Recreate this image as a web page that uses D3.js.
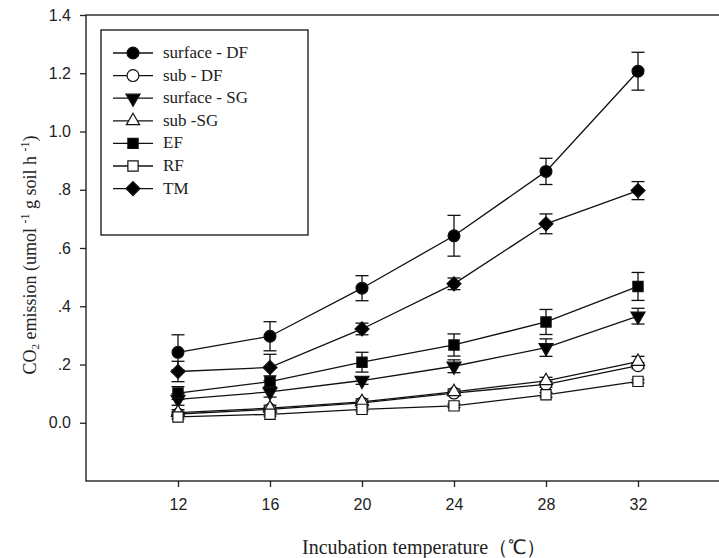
<!DOCTYPE html>
<html><head><meta charset="utf-8">
<script src="https://cdn.jsdelivr.net/npm/d3@7"></script>
<style>body{margin:0;background:#fff}</style>
</head><body>
<svg id="chart" width="719" height="558"></svg>
<script>
const temps = [12, 16, 20, 24, 28, 32];
const seriesNames = ["surface - DF", "sub - DF", "surface - SG", "sub -SG", "EF", "RF", "TM"];
const surfaceDF = [0.242, 0.297, 0.462, 0.642, 0.863, 1.207];
const surfaceDFerr = [0.06, 0.05, 0.043, 0.07, 0.045, 0.065];
const subDF = [0.03, 0.046, 0.068, 0.102, 0.132, 0.196];
const subDFerr = [0.007, 0.007, 0.008, 0.008, 0.01, 0.01];
const surfaceSG = [0.08, 0.106, 0.145, 0.194, 0.258, 0.366];
const surfaceSGerr = [0.02, 0.018, 0.013, 0.022, 0.03, 0.027];
const subSG = [0.035, 0.05, 0.072, 0.106, 0.144, 0.21];
const subSGerr = [0.01, 0.01, 0.01, 0.01, 0.012, 0.018];
const EF = [0.102, 0.141, 0.208, 0.267, 0.346, 0.468];
const EFerr = [0.022, 0.02, 0.034, 0.038, 0.043, 0.048];
const RF = [0.02, 0.029, 0.046, 0.058, 0.096, 0.142];
const RFerr = [0.007, 0.006, 0.006, 0.006, 0.008, 0.006];
const TM = [0.176, 0.19, 0.322, 0.477, 0.683, 0.797];
const TMerr = [0.035, 0.045, 0.02, 0.02, 0.034, 0.031];
const yTicks = [0, 0.2, 0.4, 0.6, 0.8, 1.0, 1.2, 1.4];
const yTickLabels = ["0.0", ".2", ".4", ".6", ".8", "1.0", "1.2", "1.4"];
const xTicks = [12, 16, 20, 24, 28, 32];

const series = [
  {name: seriesNames[0], v: surfaceDF, e: surfaceDFerr, sym: "circle", fill: "#000"},
  {name: seriesNames[1], v: subDF, e: subDFerr, sym: "circle", fill: "#fff"},
  {name: seriesNames[2], v: surfaceSG, e: surfaceSGerr, sym: "tdown", fill: "#000"},
  {name: seriesNames[3], v: subSG, e: subSGerr, sym: "tup", fill: "#fff"},
  {name: seriesNames[4], v: EF, e: EFerr, sym: "square", fill: "#000"},
  {name: seriesNames[5], v: RF, e: RFerr, sym: "square", fill: "#fff"},
  {name: seriesNames[6], v: TM, e: TMerr, sym: "diamond", fill: "#000"}
];

const svg = d3.select("#chart");
const L = 86, T = 15, B = 481;
const x = d3.scaleLinear().domain([8, 36]).range([L, 730]);
const y = d3.scaleLinear().domain([-0.2, 1.4]).range([B, T]);

// frame (its right side lies beyond the visible area)
svg.append("rect").attr("x", L).attr("y", T).attr("width", 740 - L).attr("height", B - T)
  .attr("fill", "none").attr("stroke", "#222").attr("stroke-width", 1.4);

const yAxis = d3.axisLeft(y).tickValues(yTicks).tickFormat((d, i) => yTickLabels[i]).tickSize(6).tickPadding(9);
const gy = svg.append("g").attr("transform", `translate(${L},0)`).call(yAxis);
gy.select(".domain").remove();
gy.selectAll("text").attr("font-family", "Liberation Sans, Arial, sans-serif").attr("font-size", 16).attr("fill", "#222");
gy.selectAll("line").attr("stroke", "#222").attr("stroke-width", 1.3);

const xAxis = d3.axisBottom(x).tickValues(xTicks).tickSize(6).tickPadding(12);
const gx = svg.append("g").attr("transform", `translate(0,${B})`).call(xAxis);
gx.select(".domain").remove();
gx.selectAll("text").attr("font-family", "Liberation Sans, Arial, sans-serif").attr("font-size", 16).attr("fill", "#222");
gx.selectAll("line").attr("stroke", "#222").attr("stroke-width", 1.3);

function symPath(sym) {
  if (sym === "diamond") return "M0,-7L7,0L0,7L-7,0Z";
  const m = {circle: d3.symbolCircle, square: d3.symbolSquare, tup: d3.symbolTriangle, tdown: d3.symbolTriangle};
  const sz = {circle: 110, square: 105, tup: 75, tdown: 85};
  return d3.symbol().type(m[sym]).size(sz[sym])();
}

const line = d3.line().x((d, i) => x(temps[i])).y(d => y(d));

series.forEach(s => {
  const g = svg.append("g");
  s.v.forEach((v, i) => {
    const cx = x(temps[i]);
    const top = y(v + s.e[i]), bot = y(v - s.e[i]);
    g.append("line").attr("x1", cx).attr("x2", cx).attr("y1", top).attr("y2", bot).attr("stroke", "#111").attr("stroke-width", 1.3);
    g.append("line").attr("x1", cx - 6.5).attr("x2", cx + 6.5).attr("y1", top).attr("y2", top).attr("stroke", "#111").attr("stroke-width", 1.3);
    g.append("line").attr("x1", cx - 6.5).attr("x2", cx + 6.5).attr("y1", bot).attr("y2", bot).attr("stroke", "#111").attr("stroke-width", 1.3);
  });
  g.append("path").attr("d", line(s.v)).attr("fill", "none").attr("stroke", "#111").attr("stroke-width", 1.3);
});
series.forEach(s => {
  const g = svg.append("g");
  s.v.forEach((v, i) => {
    g.append("path").attr("d", symPath(s.sym))
      .attr("transform", `translate(${x(temps[i])},${y(v)})` + (s.sym === "tdown" ? " rotate(180)" : ""))
      .attr("fill", s.fill).attr("stroke", "#111").attr("stroke-width", 1.2);
  });
});

// legend
const lg = svg.append("g");
lg.append("rect").attr("x", 101).attr("y", 30).attr("width", 207).attr("height", 205)
  .attr("fill", "#fff").attr("stroke", "#222").attr("stroke-width", 1.4);
series.forEach((s, i) => {
  const ly = 53 + i * 22.6;
  lg.append("line").attr("x1", 113).attr("x2", 153).attr("y1", ly).attr("y2", ly).attr("stroke", "#111").attr("stroke-width", 1.3);
  lg.append("path").attr("d", symPath(s.sym))
    .attr("transform", `translate(133,${ly})` + (s.sym === "tdown" ? " rotate(180)" : ""))
    .attr("fill", s.fill).attr("stroke", "#111").attr("stroke-width", 1.2);
  lg.append("text").attr("x", 163).attr("y", ly + 5).text(s.name)
    .attr("font-family", "Liberation Serif, Times New Roman, serif").attr("font-size", 17).attr("fill", "#222");
});

// axis titles
const yt = svg.append("text").attr("transform", "translate(36,255) rotate(-90)").attr("text-anchor", "middle")
  .attr("font-family", "Liberation Serif, Times New Roman, serif").attr("font-size", 18).attr("fill", "#222");
yt.append("tspan").text("CO");
yt.append("tspan").attr("font-size", 11).attr("dy", 3).text("2");
yt.append("tspan").attr("dy", -3).text(" emission (umol ");
yt.append("tspan").attr("font-size", 12).attr("dy", -7).text("-1");
yt.append("tspan").attr("dy", 7).text(" g soil h ");
yt.append("tspan").attr("font-size", 12).attr("dy", -7).text("-1");
yt.append("tspan").attr("dy", 7).text(")");

svg.append("text").attr("x", 424).attr("y", 554).attr("text-anchor", "middle")
  .attr("font-family", "Liberation Serif, Times New Roman, serif").attr("font-size", 20).attr("fill", "#222")
  .text("Incubation temperature（℃）");
</script>
</body></html>
